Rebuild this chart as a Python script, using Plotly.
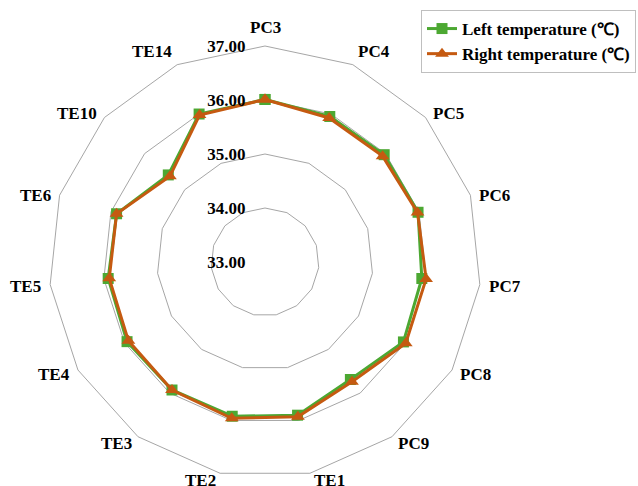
import math
import plotly.graph_objects as go

# Measurement sites, listed clockwise from the top
sites = ["PC3", "PC4", "PC5", "PC6", "PC7", "PC8", "PC9",
         "TE1", "TE2", "TE3", "TE4", "TE5", "TE6", "TE10", "TE14"]

left_temp = [36.01, 35.95, 35.97, 35.98, 35.92, 35.96, 35.69,
             35.90, 35.92, 35.93, 35.95, 35.92, 35.89, 35.41, 36.00]
right_temp = [36.01, 35.92, 35.93, 35.97, 36.00, 36.01, 35.74,
              35.93, 35.96, 35.93, 35.92, 35.90, 35.89, 35.37, 35.98]

radial_ticks = [33, 34, 35, 36, 37]

GREEN = "#4CA832"
ORANGE = "#C55A11"
GRID = "#A6A6A6"
FONT = "Liberation Serif"
LABEL_FONT = dict(family=FONT, size=17, color="black", weight="bold")


def closed(values):
    return values + values[:1]


fig = go.Figure()
fig.add_trace(go.Scatterpolar(
    r=closed(left_temp), theta=closed(sites),
    mode="lines+markers", name="Left temperature (℃)",
    line=dict(color=GREEN, width=3),
    marker=dict(symbol="square", size=11, color=GREEN),
))
fig.add_trace(go.Scatterpolar(
    r=closed(right_temp), theta=closed(sites),
    mode="lines+markers", name="Right temperature (℃)",
    line=dict(color=ORANGE, width=3),
    marker=dict(symbol="triangle-up", size=12, color=ORANGE),
))

W, H = 638, 486
cx, cy, R = 265, 262, 216  # polar centre and outer radius, in pixels

# Category labels are placed beside each outer-ring vertex: pushed sideways
# away from the vertical axis, lifted above it in the upper half and
# dropped slightly below it in the lower half.
annotations = []
n = len(sites)
for i, name in enumerate(sites):
    a = 2 * math.pi * i / n
    s, c = math.sin(a), math.cos(a)
    vx, vy = cx + R * s, cy - R * c
    if abs(s) < 0.01:
        px, anchor = vx, "center"
    elif s > 0:
        px, anchor = vx + 2 + 6 * abs(s), "left"
    else:
        px, anchor = vx - 2 - 6 * abs(s), "right"
    py = vy - 19 * c ** 4 if c > 0 else vy + 7 * math.sqrt(-c)
    annotations.append(dict(
        text=name, x=px / W, y=1 - py / H, xref="paper", yref="paper",
        xanchor=anchor, yanchor="middle", showarrow=False, font=LABEL_FONT,
        borderpad=0,
    ))

fig.update_layout(
    width=W, height=H,
    margin=dict(l=0, r=0, t=0, b=0),
    paper_bgcolor="white",
    font=LABEL_FONT,
    annotations=annotations,
    polar=dict(
        domain=dict(x=[(cx - R) / W, (cx + R) / W],
                    y=[(H - cy - R) / H, (H - cy + R) / H]),
        bgcolor="white",
        gridshape="linear",
        radialaxis=dict(
            range=[33, 37], tickvals=radial_ticks, tickformat=".2f",
            angle=90, side="counterclockwise", tickangle=90,
            showline=False, showgrid=True, gridcolor=GRID, gridwidth=1,
            ticks="outside", ticklen=13, tickcolor="rgba(0,0,0,0)",
            tickfont=LABEL_FONT,
        ),
        angularaxis=dict(
            direction="clockwise", rotation=90,
            categoryorder="array", categoryarray=sites,
            showgrid=False, showline=True, linecolor=GRID, linewidth=1,
            ticks="", showticklabels=False,
        ),
    ),
    legend=dict(
        x=421 / W, y=1 - 10 / H, xanchor="left", yanchor="top",
        bordercolor="#BFBFBF", borderwidth=1, bgcolor="white",
        itemwidth=30, tracegroupgap=0,
        font=LABEL_FONT,
    ),
)

fig.write_html("out.html")
